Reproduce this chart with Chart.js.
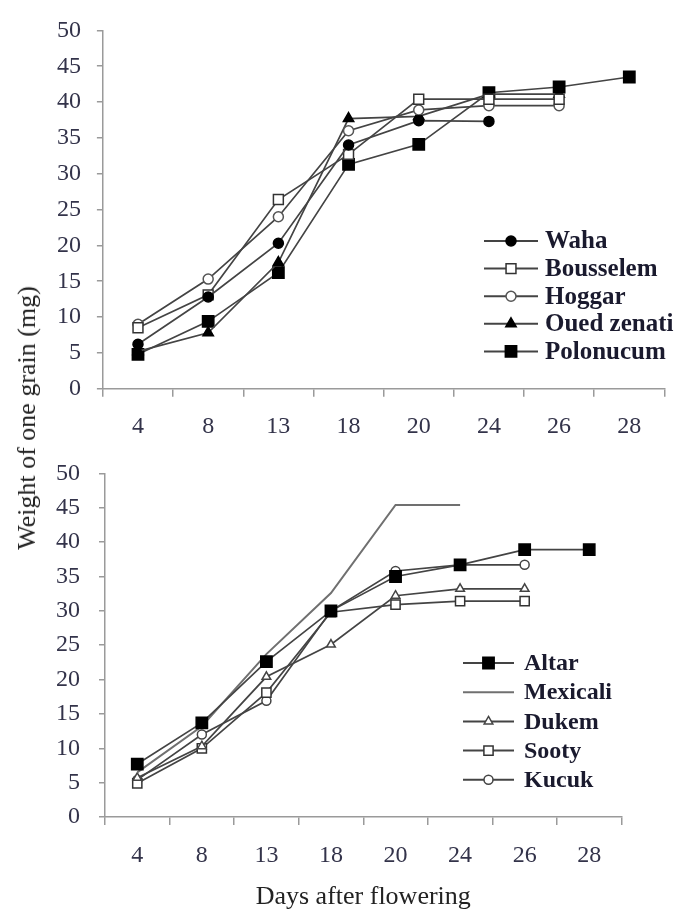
<!DOCTYPE html>
<html>
<head>
<meta charset="utf-8">
<script src="https://cdn.jsdelivr.net/npm/chart.js@4.4.0/dist/chart.umd.min.js"></script>
<style>
html,body{margin:0;padding:0;background:#fff;width:674px;height:910px;overflow:hidden}
#topWrap{position:absolute;left:0;top:0;width:674px;height:440px}
#botWrap{position:absolute;left:0;top:440px;width:674px;height:470px}
#ytitle{position:absolute;left:27px;top:418px;transform:translate(-50%,-50%) rotate(-90deg);font:26px "Liberation Serif",serif;white-space:nowrap;color:#222}
</style>
</head>
<body>
<div id="topWrap"><canvas id="topChart"></canvas></div>
<div id="botWrap"><canvas id="botChart"></canvas></div>
<div id="ytitle">Weight of one grain (mg)</div>
<script>
// ---- data ----
const days = ['4', '8', '13', '18', '20', '24', '26', '28'];

// top panel
const waha       = [6.2, 12.8, 20.3, 34.0, 37.4, 37.3, null, null];
const bousselem  = [8.5, 13.1, 26.4, 32.7, 40.4, 40.4, 40.4, null];
const hoggar     = [9.0, 15.3, 24.0, 36.0, 38.9, 39.5, 39.5, null];
const ouedZenati = [5.2, 7.8, 17.6, 37.7, 38.0, 41.1, 41.1, null];
const polonucum  = [4.8, 9.4, 16.2, 31.3, 34.1, 41.3, 42.1, 43.5];

// bottom panel
const altar    = [7.7, 13.7, 22.6, 30.0, 35.0, 36.7, 38.9, 38.9];
const mexicali = [6.5, 13.2, 23.7, 32.6, 45.4, 45.4, null, null];
const dukem    = [5.7, 10.3, 20.4, 25.1, 32.2, 33.2, 33.2, null];
const sooty    = [4.9, 10.0, 18.1, 29.8, 30.9, 31.4, 31.4, null];
const kucuk    = [5.4, 12.0, 16.9, 30.0, 35.8, 36.7, 36.7, null];

const yMin = 0, yMax = 50, yStep = 5;
const xTitle = 'Days after flowering';

// ---- helpers ----
const TICK_FONT = {family: '"Liberation Serif", serif', size: 24};
const TICK_COLOR = '#33334a';
const AXIS_COLOR = '#9a9a9a';

function ds(label, data, style, radius, fill, border, lineColor, lineWidth) {
  return {
    label, data,
    borderColor: lineColor || '#444',
    borderWidth: lineWidth || 1.7,
    pointStyle: style,
    pointRadius: radius,
    pointBackgroundColor: fill,
    pointBorderColor: border,
    pointBorderWidth: 1.5,
    tension: 0,
    fill: false,
    spanGaps: false
  };
}

const customLegend = {
  id: 'customLegend',
  afterDatasetsDraw(chart, args, opts) {
    const ctx = chart.ctx;
    ctx.save();
    chart.data.datasets.forEach((d, i) => {
      const y = opts.y0 + i * opts.dy;
      ctx.strokeStyle = d.borderColor;
      ctx.lineWidth = 2;
      ctx.beginPath();
      ctx.moveTo(opts.x1, y);
      ctx.lineTo(opts.x2, y);
      ctx.stroke();
      if (d.pointRadius > 0) {
        ctx.fillStyle = d.pointBackgroundColor;
        ctx.strokeStyle = d.pointBorderColor;
        ctx.lineWidth = d.pointBorderWidth;
        Chart.helpers.drawPoint(ctx, {pointStyle: d.pointStyle, radius: d.pointRadius, rotation: 0, borderWidth: d.pointBorderWidth}, (opts.x1 + opts.x2) / 2, y);
      }
      ctx.fillStyle = '#1a1a2e';
      ctx.font = opts.font;
      ctx.textAlign = 'left';
      ctx.textBaseline = 'middle';
      ctx.fillText(d.label, opts.textX, y + 1);
    });
    ctx.restore();
  }
};

function makeChart(canvasId, datasets, geo, legendOpts, withTitle) {
  return new Chart(document.getElementById(canvasId), {
    type: 'line',
    data: {labels: days, datasets},
    plugins: [customLegend],
    options: {
      responsive: true,
      maintainAspectRatio: false,
      animation: false,
      events: [],
      layout: {padding: {left: 0, right: geo.padRight, top: geo.padTop, bottom: 0}},
      plugins: {
        legend: {display: false},
        tooltip: {enabled: false},
        customLegend: legendOpts
      },
      scales: {
        x: {
          type: 'category',
          offset: true,
          grid: {display: true, drawOnChartArea: false, drawTicks: true, tickLength: 8, color: AXIS_COLOR, lineWidth: 1.5, offset: true},
          border: {display: true, color: AXIS_COLOR, width: 1.5},
          ticks: {font: TICK_FONT, color: TICK_COLOR, padding: 16, maxRotation: 0, autoSkip: false},
          title: withTitle ? {display: true, text: xTitle, color: '#222', font: {family: '"Liberation Serif", serif', size: 26, lineHeight: 1.0}, padding: {top: 0, bottom: 0}} : {display: false},
          afterFit(scale) { scale.height = geo.xHeight; }
        },
        y: {
          min: yMin, max: yMax,
          grid: {display: true, drawOnChartArea: false, drawTicks: true, tickLength: 6, color: AXIS_COLOR, lineWidth: 1.5},
          border: {display: true, color: AXIS_COLOR, width: 1.5},
          ticks: {stepSize: yStep, font: TICK_FONT, color: TICK_COLOR, padding: geo.yPad},
          afterFit(scale) { scale.width = geo.yWidth; }
        }
      }
    }
  });
}

makeChart('topChart', [
  ds('Waha', waha, 'circle', 5, '#000', '#000'),
  ds('Bousselem', bousselem, 'rect', 7, '#fff', '#333'),
  ds('Hoggar', hoggar, 'circle', 5, '#fff', '#555'),
  ds('Oued zenati', ouedZenati, 'triangle', 6, '#000', '#000'),
  ds('Polonucum', polonucum, 'rect', 8, '#000', '#000')
], {padRight: 9.6, padTop: 23.3, xHeight: 51.3, yWidth: 102.9, yPad: 16},
{x1: 484, x2: 538, textX: 545, y0: 241, dy: 27.6, font: 'bold 25px "Liberation Serif", serif'}, false);

makeChart('botChart', [
  ds('Altar', altar, 'rect', 8, '#000', '#000'),
  ds('Mexicali', mexicali, 'circle', 0, '#fff', '#666', '#707070', 2),
  ds('Dukem', dukem, 'triangle', 5, '#fff', '#444'),
  ds('Sooty', sooty, 'rect', 6.5, '#fff', '#333'),
  ds('Kucuk', kucuk, 'circle', 4.5, '#fff', '#444')
], {padRight: 52.5, padTop: 20, xHeight: 93, yWidth: 105, yPad: 19},
{x1: 463, x2: 514, textX: 524, y0: 223, dy: 29.2, font: 'bold 24px "Liberation Serif", serif'}, true);
</script>
</body>
</html>
